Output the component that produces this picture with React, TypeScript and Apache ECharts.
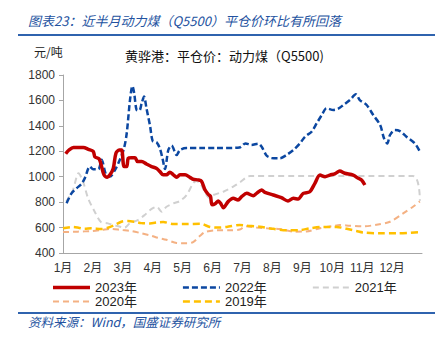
import React, { useEffect, useRef } from "react";
import * as echarts from "echarts";

// [month position (0 = 1 Jan, 12 = end of Dec), price in 元/吨]
const s2023: [number, number][] = [
  [0.09, 1180], [0.2, 1210], [0.35, 1230], [0.68, 1230], [0.85, 1215], [1.01, 1200], [1.07, 1155],
  [1.21, 1140], [1.29, 1080], [1.37, 1015], [1.48, 995], [1.57, 1015], [1.68, 1065], [1.77, 1185],
  [1.88, 1210], [1.96, 1210], [2.04, 1080], [2.13, 1080], [2.18, 1145], [2.29, 1150], [2.41, 1150],
  [2.49, 1120], [2.63, 1120], [2.79, 1100], [2.96, 1080], [3.13, 1065], [3.24, 1040], [3.35, 1015],
  [3.46, 1015], [3.57, 1035], [3.69, 1015], [3.8, 995], [3.91, 1015], [4.08, 1015], [4.24, 995],
  [4.35, 980], [4.52, 975], [4.63, 965], [4.74, 900], [4.86, 860], [4.93, 845], [4.98, 780],
  [5.1, 790], [5.19, 809], [5.27, 790], [5.36, 756], [5.52, 804], [5.69, 830], [5.85, 817],
  [5.97, 843], [6.14, 869], [6.36, 851], [6.47, 869], [6.64, 895], [6.75, 877], [7.03, 856],
  [7.3, 835], [7.52, 809], [7.7, 830], [7.86, 825], [8.03, 869], [8.25, 882], [8.42, 948],
  [8.59, 1013], [8.76, 1000], [8.92, 1013], [9.1, 1025], [9.25, 1045], [9.42, 1027], [9.7, 1013],
  [9.87, 987], [9.98, 974], [10.09, 935],
];
const s2022: [number, number][] = [
  [0.12, 792], [0.29, 871], [0.46, 910], [0.62, 944], [0.73, 989], [0.9, 1080], [1.01, 1059],
  [1.18, 1059], [1.29, 1133], [1.44, 1015], [1.57, 1002], [1.74, 1054], [1.9, 1133], [2.04, 1224],
  [2.13, 1342], [2.24, 1604], [2.32, 1714], [2.38, 1656], [2.46, 1525], [2.55, 1520], [2.63, 1578],
  [2.71, 1630], [2.79, 1538], [2.91, 1400], [3.0, 1280], [3.13, 1270], [3.24, 1220], [3.33, 1140],
  [3.41, 1060], [3.52, 1210], [3.63, 1245], [3.8, 1171], [3.91, 1210], [4.13, 1225], [4.6, 1225],
  [5.1, 1225], [5.9, 1230], [6.1, 1262], [6.3, 1250], [6.53, 1260], [6.64, 1236], [6.81, 1165],
  [6.97, 1148], [7.25, 1145], [7.47, 1171], [7.7, 1210], [7.92, 1262], [8.09, 1315], [8.31, 1354],
  [8.48, 1420], [8.65, 1485], [8.81, 1538], [9.04, 1525], [9.2, 1535], [9.37, 1564], [9.59, 1603],
  [9.79, 1648], [9.92, 1603], [10.15, 1564], [10.37, 1485], [10.6, 1407], [10.73, 1302],
  [10.84, 1262], [10.93, 1328], [11.09, 1367], [11.26, 1359], [11.48, 1315], [11.76, 1262],
  [11.93, 1197],
];
const s2021: [number, number][] = [
  [0.11, 804], [0.33, 895], [0.52, 1027], [0.67, 961], [0.84, 830], [1.06, 725], [1.26, 646],
  [1.5, 633], [1.78, 615], [2.06, 600], [2.23, 633], [2.5, 659], [2.73, 699], [2.95, 745],
  [3.13, 764], [3.3, 725], [3.46, 764], [3.69, 790], [3.91, 809], [4.13, 856], [4.35, 948],
  [4.46, 966], [4.58, 948], [4.74, 882], [4.88, 835], [5.02, 856], [5.36, 882], [5.69, 922],
  [5.91, 955], [6.25, 1005], [11.7, 1005], [11.93, 810],
];
const s2020: [number, number][] = [
  [0.0, 565], [0.5, 568], [0.95, 573], [1.28, 581], [1.61, 590], [1.95, 581], [2.28, 573],
  [2.62, 555], [2.95, 536], [3.17, 520], [3.46, 504], [3.8, 478], [4.13, 476], [4.35, 485],
  [4.58, 535], [4.75, 565], [5.13, 578], [5.58, 578], [5.91, 585], [6.1, 610], [6.47, 600],
  [6.81, 594], [7.25, 589], [7.7, 568], [8.14, 570], [8.59, 595], [9.03, 612], [9.25, 620],
  [9.59, 615], [10.03, 610], [10.48, 622], [10.93, 646], [11.37, 712], [11.7, 764], [11.93, 806],
];
const s2019: [number, number][] = [
  [0.0, 594], [0.33, 605], [0.52, 599], [0.72, 590], [0.95, 594], [1.28, 589], [1.5, 599],
  [1.73, 620], [1.95, 646], [2.17, 652], [2.39, 646], [2.62, 635], [2.9, 633], [3.17, 641],
  [3.35, 644], [3.69, 628], [4.13, 628], [4.58, 630], [4.91, 605], [5.13, 600], [5.47, 605],
  [5.91, 620], [6.14, 615], [6.58, 607], [7.03, 590], [7.47, 578], [7.92, 580], [8.25, 594],
  [8.7, 605], [9.14, 605], [9.48, 590], [9.81, 573], [10.03, 562], [10.6, 555], [11.15, 555],
  [11.93, 565],
];

const monthLabels = ["1月", "2月", "3月", "4月", "5月", "6月", "7月", "8月", "9月", "10月", "11月", "12月"];
const legendRow1 = ["2023年", "2022年", "2021年"];
const legendRow2 = ["2020年", "2019年"];

const FONT = "Arial, 'Liberation Sans', 'Noto Sans CJK SC', sans-serif";
const CJK = "'Noto Sans CJK SC', sans-serif";
const BLUE_TXT = "#2352A0";

const COLORS: Record<string, string> = {
  "2023年": "#C00000",
  "2022年": "#0B47A1",
  "2021年": "#D0D0D0",
  "2020年": "#F4B183",
  "2019年": "#FFC000",
};

// legend icon: a horizontal bar 37 wide, thickness h, dashed (dash d, gap g) or solid
function barIcon(h: number, d?: number, g?: number) {
  const W = 37;
  if (!d || !g) return `path://M0,0H${W}V${h}H0Z`;
  let p = "";
  for (let x = 0; x < W; x += d + g) {
    const w = Math.min(d, W - x);
    p += `M${x},0H${x + w}V${h}H${x}Z`;
  }
  // keep full width so the icon is not stretched
  if (!p.includes(`H${W}V`)) p += `M${W - 0.01},0H${W}V${h}H${W - 0.01}Z`;
  return "path://" + p;
}

const LEGEND_ICONS: Record<string, { icon: string; h: number }> = {
  "2023年": { icon: barIcon(3.5), h: 3.5 },
  "2022年": { icon: barIcon(2.5, 6, 3), h: 2.5 },
  "2021年": { icon: barIcon(2, 6, 4), h: 2 },
  "2020年": { icon: barIcon(2, 6, 4), h: 2 },
  "2019年": { icon: barIcon(2.5, 7, 4), h: 2.5 },
};

export default function App() {
  const ref = useRef<HTMLDivElement>(null);
  useEffect(() => {
    if (!ref.current) return;
    const chart = echarts.init(ref.current, undefined, { renderer: "svg" });
    const line = (name: string, data: [number, number][], width: number, type: any, z: number) => ({
      name,
      type: "line",
      data,
      smooth: 0.3,
      showSymbol: false,
      symbol: "none",
      z,
      lineStyle: { color: COLORS[name], width, type },
      itemStyle: { color: COLORS[name] },
    });
    const legendItems = (names: string[]) =>
      names.map((n) => ({
        name: n,
        icon: LEGEND_ICONS[n].icon,
        itemStyle: { color: COLORS[n], borderWidth: 0 },
      }));
    const legendBase = {
      left: 53,
      padding: 0,
      itemWidth: 37,
      itemHeight: 3.5,
      itemGap: 46,
      textStyle: { fontSize: 13, color: "#222", fontFamily: FONT },
    };
    chart.setOption({
      animation: false,
      textStyle: { fontFamily: FONT },
      grid: { left: 63, right: 21, top: 75, bottom: 87, containLabel: false },
      xAxis: {
        type: "value",
        min: 0,
        max: 12,
        interval: 1,
        axisLine: { lineStyle: { color: "#A6A6A6", width: 1 } },
        axisTick: { show: false },
        splitLine: { show: false },
        axisLabel: {
          color: "#333",
          fontSize: 12,
          fontFamily: FONT,
          margin: 9,
          formatter: (v: number) => (v < 12 ? monthLabels[v] : ""),
        },
      },
      yAxis: {
        type: "value",
        min: 400,
        max: 1800,
        interval: 200,
        axisLine: { show: true, lineStyle: { color: "#A6A6A6", width: 1 } },
        axisTick: { show: true, length: 4, lineStyle: { color: "#A6A6A6" } },
        splitLine: { show: false },
        axisLabel: {
          color: "#333",
          fontSize: 12,
          fontFamily: FONT,
          margin: 8,
          formatter: (v: number) => String(v),
        },
      },
      legend: [
        { ...legendBase, top: 281, data: legendItems(legendRow1) },
        { ...legendBase, top: 295, data: legendItems(legendRow2) },
      ],
      series: [
        line("2021年", s2021, 2, [6, 4], 1),
        line("2020年", s2020, 2, [6, 4], 2),
        line("2019年", s2019, 2.5, [7, 4], 3),
        line("2022年", s2022, 2.5, [6, 3], 4),
        line("2023年", s2023, 3.5, "solid", 5),
      ],
      graphic: [
        {
          type: "text",
          left: 28,
          top: 14,
          style: {
            text: "图表23：近半月动力煤（Q5500）平仓价环比有所回落",
            fill: BLUE_TXT,
            fontSize: 13,
            fontStyle: "italic",
            fontFamily: CJK,
          },
        },
        {
          type: "line",
          shape: { x1: 18, y1: 35, x2: 435, y2: 35 },
          style: { stroke: "#2F63AE", lineWidth: 2 },
        },
        {
          type: "text",
          left: 34,
          top: 45,
          style: { text: "元/吨", fill: "#222", fontSize: 12, fontFamily: CJK },
        },
        {
          type: "text",
          left: 125,
          top: 49,
          style: { text: "黄骅港：平仓价：动力煤（Q5500)", fill: "#111", fontSize: 13, fontFamily: CJK },
        },
        {
          type: "line",
          shape: { x1: 18, y1: 313, x2: 435, y2: 313 },
          style: { stroke: "#2F63AE", lineWidth: 2 },
        },
        {
          type: "text",
          left: 28,
          top: 315,
          style: {
            text: "资料来源：Wind，国盛证券研究所",
            fill: BLUE_TXT,
            fontSize: 12.5,
            fontStyle: "italic",
            fontFamily: CJK,
          },
        },
      ],
    });
    return () => chart.dispose();
  }, []);
  return (
    <div
      ref={ref}
      style={{ position: "fixed", left: 0, top: 0, width: 443, height: 340, background: "#fff" }}
    />
  );
}
